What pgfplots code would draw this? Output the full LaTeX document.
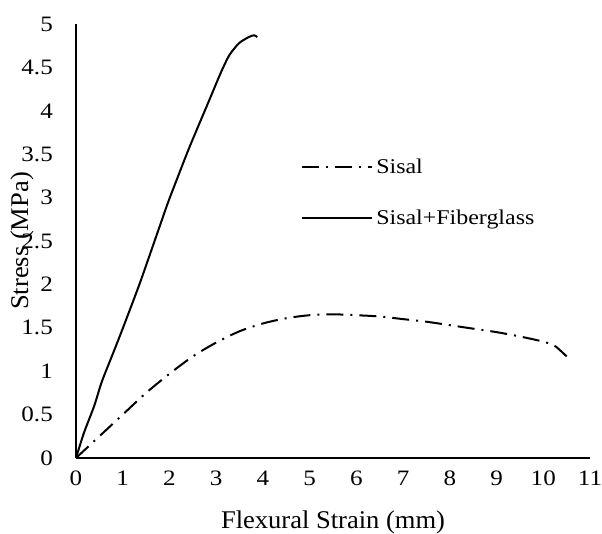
\documentclass[border=0pt]{standalone}
\usepackage{fontspec}
\setmainfont{Liberation Serif}[FakeStretch=1.04]
\newfontfamily\tickfont{Liberation Serif}[FakeStretch=1.14]
\usepackage{pgfplots}
\pgfplotsset{compat=1.18}
\begin{document}
\begin{tikzpicture}
\begin{axis}[
  name=ax,
  scale only axis,
  width=514bp, height=434bp,
  xmin=0, xmax=11, ymin=0, ymax=5,
  axis x line=bottom, axis y line=left,
  axis line style={-, line width=1.8bp, black},
  xtick={0,1,2,3,4,5,6,7,8,9,10,11},
  ytick={0,0.5,1,1.5,2,2.5,3,3.5,4,4.5,5},
  major tick length=0pt,
  /pgf/number format/assume math mode=true,
  tick label style={font=\tickfont\fontsize{22bp}{26bp}\selectfont},
  yticklabel style={inner sep=0pt, xshift=-23bp},
  xticklabel style={anchor=base, inner sep=0pt, yshift=-27bp},
  xlabel={Flexural Strain (mm)},
  ylabel={Stress (MPa)},
  label style={font=\fontsize{25.5bp}{30bp}\selectfont},
  xlabel style={at={(axis description cs:0.5,0)}, anchor=base, inner sep=0pt, yshift=-70bp},
  ylabel style={at={(axis description cs:0,0.5)}, anchor=center, inner sep=0pt, yshift=54bp},
  legend image code/.code={\draw[#1] (0bp,0bp) -- (70bp,0bp);},
  legend cell align=left,
  legend style={draw=none, fill=none, at={(0.438,0.696)}, anchor=north west,
    inner sep=0pt, row sep=29bp, font=\tickfont\fontsize{21bp}{25bp}\selectfont,
    nodes={inner sep=3bp}},
]
% Sisal
\addplot[black, line width=2bp, smooth, dash pattern=on 17bp off 7bp on 2bp off 7bp] coordinates {
(0,0) (0.5,0.25) (1,0.5) (1.5,0.75) (2,0.97) (2.5,1.17) (3,1.33) (3.5,1.46)
(4,1.55) (4.5,1.61) (5,1.645) (5.5,1.655) (6,1.645) (6.5,1.63) (7,1.60)
(7.5,1.57) (8,1.53) (8.5,1.49) (9,1.45) (9.5,1.40) (10,1.34) (10.25,1.29) (10.5,1.17)
};
% Sisal+Fiberglass
\addplot[black, line width=2bp, smooth, tension=0.4] coordinates {
(0,0) (0.17,0.29) (0.39,0.60) (0.56,0.89) (0.92,1.38) (1.35,1.99) (1.74,2.59)
(1.96,2.93) (2.13,3.17) (2.42,3.57) (2.85,4.12) (3.10,4.44) (3.28,4.64) (3.49,4.78)
(3.70,4.85) (3.81,4.87) (3.88,4.85)
};
\legend{Sisal, Sisal+Fiberglass}
\end{axis}
\pgfresetboundingbox
\useasboundingbox ([xshift=-76bp,yshift=-76bp]ax.south west) rectangle ([xshift=12bp,yshift=24bp]ax.north east);
\end{tikzpicture}
\end{document}
